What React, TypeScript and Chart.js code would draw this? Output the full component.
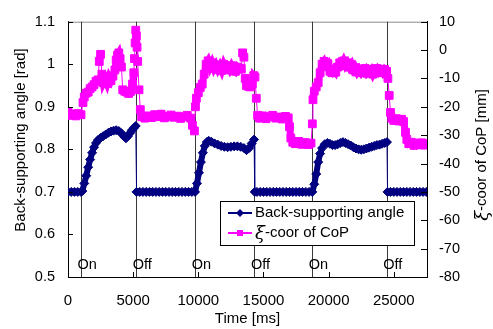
import React, { useEffect, useRef } from "react";
import { Chart, registerables } from "chart.js";

Chart.register(...registerables);

const seriesNames = ["Back-supporting angle", "ξ-coor of CoP"];
const axisTitles = { x: "Time [ms]", left: "Back-supporting angle [rad]", right: "ξ-coor of CoP [mm]" };

// Back-supporting angle [rad]
const angleTime = [
  0, 250, 500, 750, 1000, 1100, 1250, 1400, 1550, 1700, 1850, 2000, 2150, 2300, 2500, 2700, 2900, 3100, 3300, 3500,
  3700, 3900, 4100, 4300, 4450, 4600, 4750, 4900, 5050, 5200, 5260, 5500, 5750, 6000, 6250, 6500, 6750, 7000, 7250,
  7500, 7750, 8000, 8250, 8500, 8750, 9000, 9250, 9500, 9750, 9900, 10050, 10200, 10350, 10500, 10650, 10800, 11000,
  11250, 11500, 11750, 12000, 12250, 12500, 12750, 13000, 13250, 13500, 13700, 13900, 14100, 14280, 14330, 14500,
  14750, 15000, 15250, 15500, 15750, 16000, 16250, 16500, 16750, 17000, 17250, 17500, 17750, 18000, 18250, 18500,
  18750, 18900, 19050, 19200, 19350, 19500, 19700, 19900, 20100, 20300, 20500, 20700, 20900, 21100, 21300, 21500,
  21700, 21900, 22100, 22300, 22500, 22700, 22900, 23100, 23300, 23500, 23700, 23900, 24100, 24300, 24480, 24520,
  24750, 25000, 25250, 25500, 25750, 26000, 26250, 26500, 26750, 27000, 27250, 27500,
];
const angleValue = [
  0.7, 0.7, 0.7, 0.7, 0.7, 0.702, 0.72, 0.738, 0.758, 0.776, 0.792, 0.805, 0.815, 0.822, 0.827, 0.831, 0.835, 0.839, 0.842, 0.844,
  0.845, 0.843, 0.838, 0.83, 0.826, 0.831, 0.838, 0.845, 0.85, 0.855, 0.7, 0.7, 0.7, 0.7, 0.7, 0.7, 0.7, 0.7, 0.7,
  0.7, 0.7, 0.7, 0.7, 0.7, 0.7, 0.7, 0.7, 0.7, 0.7, 0.72, 0.745, 0.77, 0.792, 0.808, 0.817, 0.82, 0.818,
  0.814, 0.811, 0.808, 0.806, 0.805, 0.806, 0.807, 0.807, 0.806, 0.803, 0.798, 0.803, 0.814, 0.823, 0.7, 0.7,
  0.7, 0.7, 0.7, 0.7, 0.7, 0.7, 0.7, 0.7, 0.7, 0.7, 0.7, 0.7, 0.7, 0.7, 0.7, 0.7,
  0.7, 0.718, 0.742, 0.77, 0.79, 0.803, 0.812, 0.815, 0.813, 0.81, 0.81, 0.812, 0.815, 0.817, 0.815, 0.812,
  0.809, 0.805, 0.802, 0.8, 0.799, 0.8, 0.802, 0.804, 0.806, 0.808, 0.81, 0.811, 0.813, 0.815, 0.817, 0.7,
  0.7, 0.7, 0.7, 0.7, 0.7, 0.7, 0.7, 0.7, 0.7, 0.7, 0.7, 0.7,
];

// ξ-coordinate of CoP [mm]
const copTime = [
  0, 200, 400, 600, 800, 1000, 1150, 1250, 1400, 1550, 1700, 1850, 2000, 2150, 2300, 2400, 2500, 2600, 2700, 2850,
  3000, 3150, 3300, 3450, 3600, 3700, 3800, 3900, 4000, 4100, 4200, 4350, 4500, 4650, 4800, 4950, 5050, 5100, 5150,
  5200, 5250, 5300, 5350, 5450, 5550, 5650, 5900, 6150, 6400, 6650, 6900, 7150, 7400, 7650, 7900, 8150, 8400, 8650,
  8900, 9150, 9400, 9550, 9700, 9780, 9850, 10000, 10150, 10300, 10450, 10600, 10750, 10900, 11050, 11200, 11350,
  11500, 11650, 11800, 11950, 12100, 12250, 12400, 12550, 12700, 12850, 13000, 13150, 13300, 13400, 13500, 13600,
  13700, 13850, 14000, 14150, 14250, 14350, 14450, 14550, 14700, 14950, 15200, 15450, 15700, 15950, 16200, 16450,
  16700, 16900, 17000, 17100, 17250, 17450, 17700, 17950, 18200, 18450, 18650, 18750, 18800, 18900, 19050, 19200,
  19350, 19500, 19650, 19800, 19950, 20100, 20250, 20400, 20550, 20700, 20850, 21000, 21150, 21300, 21450, 21600,
  21750, 21900, 22050, 22200, 22350, 22500, 22650, 22800, 22950, 23100, 23250, 23400, 23550, 23700, 23850, 24000,
  24150, 24300, 24450, 24550, 24650, 24750, 24850, 25000, 25200, 25400, 25600, 25750, 25900, 26000, 26150, 26350,
  26550, 26750, 26950, 27150, 27350, 27500,
];
const copValue = [
  -22.0, -23.0, -22.5, -23.2, -22.4, -22.8, -18.5, -16.5, -15.2, -14.8, -13.6, -13.0, -12.2, -11.0, -10.5, -4.0, -1.5, -8.5, -11.5, -10.0,
  -11.8, -9.5, -10.8, -9.2, -7.0, -3.5, -1.8, -1.0, -3.0, -6.0, -14.0, -14.5, -14.8, -15.3, -14.6, -12.0, -8.0, -3.0, 2.5,
  7.0, 5.0, 1.0, -4.0, -14.0, -21.0, -23.5, -24.0, -23.2, -23.8, -22.8, -23.5, -22.6, -23.9, -23.4, -22.9, -23.7, -23.3, -24.1,
  -23.5, -23.0, -24.0, -26.5, -28.5, -20.0, -17.0, -15.0, -13.2, -12.0, -8.5, -5.0, -3.8, -6.0, -4.5, -6.5, -5.2,
  -6.8, -5.5, -7.2, -5.0, -6.5, -5.8, -7.0, -5.5, -6.8, -7.5, -6.0, -6.8, -6.5, -1.0, -2.5, -10.0,
  -12.5, -12.8, -13.0, -12.0, -9.0, -9.5, -17.0, -23.0, -24.0, -23.2, -24.2, -23.5, -23.0, -24.0, -23.6, -24.3,
  -23.4, -23.9, -27.0, -31.0, -32.5, -33.0, -32.2, -33.2, -32.6, -33.3, -32.8, -26.0, -17.5, -14.5, -13.0, -11.5,
  -8.0, -5.0, -4.0, -5.5, -4.8, -7.5, -8.0, -6.8, -7.8, -6.0, -4.5, -5.2, -3.8, -5.5, -4.5, -6.0,
  -5.0, -7.0, -6.2, -7.8, -6.8, -8.0, -7.0, -6.5, -8.2, -7.5, -6.8, -8.5, -7.2, -6.5, -7.8, -7.0,
  -8.0, -6.8, -7.5, -10.0, -16.0, -22.0, -24.0, -24.8, -24.2, -25.0, -24.4, -25.2, -29.0, -31.5, -33.0, -32.5,
  -33.6, -32.8, -33.4, -32.7, -33.5, -33.0,
];

// Stimulation switch events
const switchTime = [1000, 5230, 9770, 14308, 18746, 24460];
const switchLabel = ["On", "Off", "On", "Off", "On", "Off"];

// Axis ranges and tick labels
const xRange = [0, 27550];
const xTicks = [0, 5000, 10000, 15000, 20000, 25000];
const leftRange = [0.5, 1.1];
const leftTicks = [0.5, 0.6, 0.7, 0.8, 0.9, 1, 1.1];
const rightRange = [-80, 10];
const rightTicks = [-80, -70, -60, -50, -40, -30, -20, -10, 0, 10];

const FONT = "'Liberation Sans', Arial, Helvetica, sans-serif";
const BLUE = "#000080";
const PINK = "#FF00FF";

function drawXiText(ctx: CanvasRenderingContext2D, text: string, x: number, y: number, size: number, align: "left" | "center") {
  const hasXi = text.startsWith("ξ");
  const xi = hasXi ? "ξ" : "";
  const rest = hasXi ? text.slice(1) : text;
  const xiFont = `italic ${size + 3}px 'DejaVu Serif', serif`;
  const restFont = `${size}px ${FONT}`;
  ctx.font = xiFont;
  const wXi = xi ? ctx.measureText(xi).width : 0;
  ctx.font = restFont;
  const wRest = ctx.measureText(rest).width;
  let sx = align === "center" ? x - (wXi + wRest) / 2 : x;
  ctx.textAlign = "left";
  ctx.textBaseline = "middle";
  if (xi) {
    ctx.font = xiFont;
    ctx.fillText(xi, sx, y + 1);
    sx += wXi;
  }
  ctx.font = restFont;
  ctx.fillText(rest, sx, y);
}

const decorPlugin = {
  id: "decor",
  beforeDatasetsDraw(chart: any) {
    const { ctx, chartArea: a, scales } = chart;
    ctx.save();
    ctx.lineWidth = 1;
    ctx.strokeStyle = "#8a8a8a";
    ctx.beginPath();
    ctx.moveTo(a.left, a.top + 0.5);
    ctx.lineTo(a.right, a.top + 0.5);
    ctx.stroke();
    ctx.strokeStyle = "#3a3a3a";
    switchTime.forEach((t) => {
      const px = Math.round(scales.x.getPixelForValue(t)) + 0.5;
      ctx.beginPath();
      ctx.moveTo(px, a.top);
      ctx.lineTo(px, a.bottom);
      ctx.stroke();
    });
    ctx.restore();
  },
  afterDraw(chart: any) {
    const { ctx, chartArea: a, scales } = chart;
    ctx.save();
    ctx.strokeStyle = "#000";
    ctx.lineWidth = 1;
    ctx.beginPath();
    scales.y.ticks.forEach((t: any) => {
      const py = Math.round(scales.y.getPixelForValue(t.value)) + 0.5;
      ctx.moveTo(a.left, py);
      ctx.lineTo(a.left + 5, py);
    });
    scales.y1.ticks.forEach((t: any) => {
      const py = Math.round(scales.y1.getPixelForValue(t.value)) + 0.5;
      ctx.moveTo(a.right - 6, py);
      ctx.lineTo(a.right, py);
    });
    scales.x.ticks.forEach((t: any) => {
      const px = Math.round(scales.x.getPixelForValue(t.value)) + 0.5;
      ctx.moveTo(px, a.bottom);
      ctx.lineTo(px, a.bottom - 5);
    });
    ctx.stroke();

    ctx.fillStyle = "#000";
    ctx.font = `14.5px ${FONT}`;
    ctx.textAlign = "left";
    ctx.textBaseline = "middle";
    switchTime.forEach((t, i) => {
      const px = scales.x.getPixelForValue(t);
      ctx.fillText(switchLabel[i], px - 3.5, a.bottom - 12);
    });

    ctx.font = `15px ${FONT}`;
    ctx.textAlign = "center";
    ctx.fillText(axisTitles.x, (a.left + a.right) / 2, 319);
    ctx.save();
    ctx.translate(21, 140);
    ctx.rotate(-Math.PI / 2);
    ctx.fillText(axisTitles.left, 0, 0);
    ctx.restore();
    ctx.save();
    ctx.translate(482, 155);
    ctx.rotate(-Math.PI / 2);
    drawXiText(ctx, axisTitles.right, 0, 0, 15, "center");
    ctx.restore();

    const bx = 220.5, by = 201.5, bw = 194, bh = 44;
    ctx.fillStyle = "#fff";
    ctx.fillRect(bx, by, bw, bh);
    ctx.strokeStyle = "#000";
    ctx.lineWidth = 1;
    ctx.strokeRect(bx, by, bw, bh);
    const rows = [213, 233];
    chart.data.datasets.forEach((ds: any, i: number) => {
      const y = rows[i];
      ctx.strokeStyle = ds.borderColor;
      ctx.fillStyle = ds.backgroundColor;
      ctx.lineWidth = 2;
      ctx.beginPath();
      ctx.moveTo(228, y);
      ctx.lineTo(252, y);
      ctx.stroke();
      ctx.beginPath();
      if (ds.pointStyle === "rectRot") {
        ctx.moveTo(240 - 4, y);
        ctx.lineTo(240, y - 4);
        ctx.lineTo(240 + 4, y);
        ctx.lineTo(240, y + 4);
        ctx.closePath();
      } else {
        ctx.rect(237, y - 3, 6, 6);
      }
      ctx.fill();
      ctx.fillStyle = "#000";
      drawXiText(ctx, ds.label, 255, y, 15, "left");
    });
    ctx.restore();
  },
};

const setTicks = (values: number[]) => (s: any) => {
  s.ticks = values.map((v) => ({ value: v }));
};

export default function App() {
  const canvasRef = useRef<HTMLCanvasElement | null>(null);

  useEffect(() => {
    if (!canvasRef.current) return;
    const angleData = angleTime.map((t, i) => ({ x: t, y: angleValue[i] }));
    const copData = copTime.map((t, i) => ({ x: t, y: copValue[i] }));
    const chart = new Chart(canvasRef.current, {
      type: "line",
      data: {
        datasets: [
          {
            label: seriesNames[0],
            data: angleData,
            yAxisID: "y",
            borderColor: BLUE,
            backgroundColor: BLUE,
            borderWidth: 6,
            borderJoinStyle: "round",
            borderCapStyle: "round",
            pointStyle: "rectRot",
            pointRadius: 4.5,
            pointBorderWidth: 1,
            pointBackgroundColor: BLUE,
            pointBorderColor: BLUE,
            tension: 0,
            segment: {
              borderWidth: (c: any) => (Math.abs(c.p0.parsed.y - c.p1.parsed.y) > 0.05 ? 1 : 6),
            },
          },
          {
            label: seriesNames[1],
            data: copData,
            yAxisID: "y1",
            borderColor: PINK,
            backgroundColor: PINK,
            borderWidth: 7,
            borderJoinStyle: "miter",
            pointStyle: "rect",
            pointRadius: 5.5,
            pointBorderWidth: 1,
            pointBackgroundColor: PINK,
            pointBorderColor: PINK,
            tension: 0,
            segment: {
              borderWidth: (c: any) => (Math.abs(c.p0.parsed.y - c.p1.parsed.y) > 4 ? 1 : 7),
            },
          },
        ],
      },
      options: {
        animation: false,
        responsive: false,
        maintainAspectRatio: false,
        events: [],
        layout: { padding: { top: 13, left: 0, right: 0, bottom: 0 } },
        plugins: { legend: { display: false }, tooltip: { enabled: false }, title: { display: false } },
        scales: {
          x: {
            type: "linear",
            position: "bottom",
            min: xRange[0],
            max: xRange[1],
            grid: { display: false, drawTicks: false },
            border: { display: true, color: "#000", width: 1 },
            afterBuildTicks: setTicks(xTicks),
            ticks: {
              autoSkip: false,
              color: "#000",
              padding: 15,
              maxRotation: 0,
              font: { family: FONT, size: 15 },
              callback: (v: any) => String(v),
            },
            afterFit: (s: any) => {
              s.height = 52;
            },
          },
          y: {
            type: "linear",
            position: "left",
            min: leftRange[0],
            max: leftRange[1],
            grid: { display: false, drawTicks: false },
            border: { display: true, color: "#000", width: 1 },
            afterBuildTicks: setTicks(leftTicks),
            ticks: {
              autoSkip: false,
              color: "#000",
              padding: 13,
              font: { family: FONT, size: 14.5 },
              callback: (v: any) => String(v),
            },
            afterFit: (s: any) => {
              s.width = 68;
            },
          },
          y1: {
            type: "linear",
            position: "right",
            min: rightRange[0],
            max: rightRange[1],
            grid: { display: false, drawTicks: false, drawOnChartArea: false },
            border: { display: true, color: "#000", width: 1 },
            afterBuildTicks: setTicks(rightTicks),
            ticks: {
              autoSkip: false,
              color: "#000",
              padding: 12,
              font: { family: FONT, size: 14.5 },
              callback: (v: any) => String(v),
            },
            afterFit: (s: any) => {
              s.width = 66;
            },
          },
        },
      },
      plugins: [decorPlugin],
    });
    return () => chart.destroy();
  }, []);

  return (
    <div style={{ position: "absolute", left: 0, top: 0, width: 493, height: 329, background: "#fff" }}>
      <canvas ref={canvasRef} width={493} height={329} style={{ display: "block" }} />
    </div>
  );
}
